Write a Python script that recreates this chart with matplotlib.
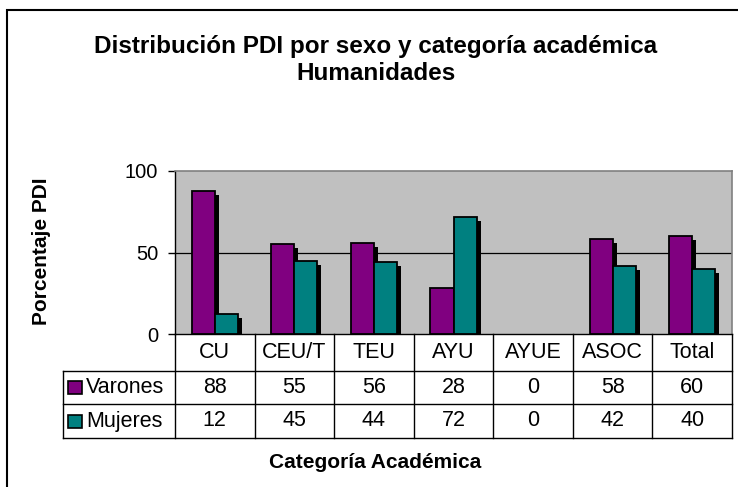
import numpy as np
import matplotlib
matplotlib.use('Agg')
import matplotlib.pyplot as plt
from matplotlib.patches import Rectangle
import matplotlib.transforms as mtransforms

plt.rcParams['font.family'] = ['Liberation Sans', 'DejaVu Sans']

# data
categorias = ['CU', 'CEU/T', 'TEU', 'AYU', 'AYUE', 'ASOC', 'Total']
varones = [88, 55, 56, 28, 0, 58, 60]
mujeres = [12, 45, 44, 72, 0, 42, 40]
series = ['Varones', 'Mujeres']
colores = ['#800080', '#008080']

W, H = 738, 487
fig = plt.figure(figsize=(W / 100, H / 100), dpi=100)

# pixel helpers
def fx(px):
    return px / W

def fy(py):
    return 1 - py / H

left, right, top, bottom = 175, 732, 171, 334
ax = fig.add_axes([fx(left), fy(bottom), fx(right) - fx(left), fy(top) - fy(bottom)])
ax.set_facecolor('#C0C0C0')

x = np.arange(len(categorias))
w = 0.29
dx = 4 / ((right - left) / len(categorias))
dy = 4 / (bottom - top) * 100

for vals, off, col in [(varones, -w / 2, colores[0]), (mujeres, w / 2, colores[1])]:
    vals = np.array(vals, dtype=float)
    m = vals > 0
    ax.bar(x[m] + off + dx, vals[m] - dy, w, color='black', zorder=2)
    ax.bar(x[m] + off, vals[m], w, color=col, edgecolor='black', linewidth=1.3, zorder=3)

ax.axhline(50, color='black', lw=0.9, zorder=1)
ax.set_xlim(-0.5, len(categorias) - 0.5)
ax.set_ylim(0, 100)
ax.set_yticks([0, 50, 100])
ax.set_xticks([])
ax.tick_params(axis='y', direction='out', length=5, width=1, pad=7, labelsize=14.5)
for s in ['top', 'right']:
    ax.spines[s].set_color('#808080')
    ax.spines[s].set_linewidth(1.2)
for s in ['left', 'bottom']:
    ax.spines[s].set_color('black')
    ax.spines[s].set_linewidth(1.0)

# data table under the axis
tr = mtransforms.blended_transform_factory(ax.transData, ax.transAxes)
hpx = bottom - top
rows_px = [334, 371, 404, 438]
rows = [(bottom - r) / hpx for r in rows_px]
leg_x = -0.5 - (left - 63) / ((right - left) / len(categorias))
kw = dict(transform=tr, clip_on=False, color='black', lw=1.0)

for xv in np.arange(len(categorias) + 1) - 0.5:
    ax.plot([xv, xv], [rows[0], rows[3]], **kw)
ax.plot([leg_x, leg_x], [rows[1], rows[3]], **kw)
for r in rows[1:]:
    ax.plot([leg_x, len(categorias) - 0.5], [r, r], **kw)

tfs = 15.5
for i, c in enumerate(categorias):
    ax.text(i, (rows[0] + rows[1]) / 2, c, transform=tr, ha='center', va='center', fontsize=tfs)
    ax.text(i, (rows[1] + rows[2]) / 2, str(varones[i]), transform=tr, ha='center', va='center', fontsize=tfs)
    ax.text(i, (rows[2] + rows[3]) / 2, str(mujeres[i]), transform=tr, ha='center', va='center', fontsize=tfs)

# legend keys inside the table
for j, (name, col) in enumerate(zip(series, colores)):
    ypix = (rows_px[j + 1] + rows_px[j + 2]) / 2
    fig.patches.append(Rectangle((fx(68), fy(ypix + 6.5)), fx(14), fy(ypix - 6.5) - fy(ypix + 6.5),
                                 transform=fig.transFigure, facecolor=col, edgecolor='black', lw=1.2))
    fig.text(fx(86), fy(ypix), name, ha='left', va='center', fontsize=tfs)

# titles and labels
fig.text(fx(376), fy(46), 'Distribución PDI por sexo y categoría académica',
         ha='center', va='center', fontsize=17.5, fontweight='bold')
fig.text(fx(376), fy(73), 'Humanidades', ha='center', va='center', fontsize=17.5, fontweight='bold')
fig.text(fx(42), fy(251), 'Porcentaje PDI', rotation=90, ha='center', va='center',
         fontsize=15, fontweight='bold')
fig.text(fx(375), fy(462), 'Categoría Académica', ha='center', va='center',
         fontsize=15, fontweight='bold')

# outer chart border, cut by the image edge
fig.patches.append(Rectangle((fx(7), fy(H + 20)), fx(W + 20), fy(10) - fy(H + 20),
                             transform=fig.transFigure, fill=False, edgecolor='black', lw=1.5))

fig.savefig('out.png', dpi=100)
